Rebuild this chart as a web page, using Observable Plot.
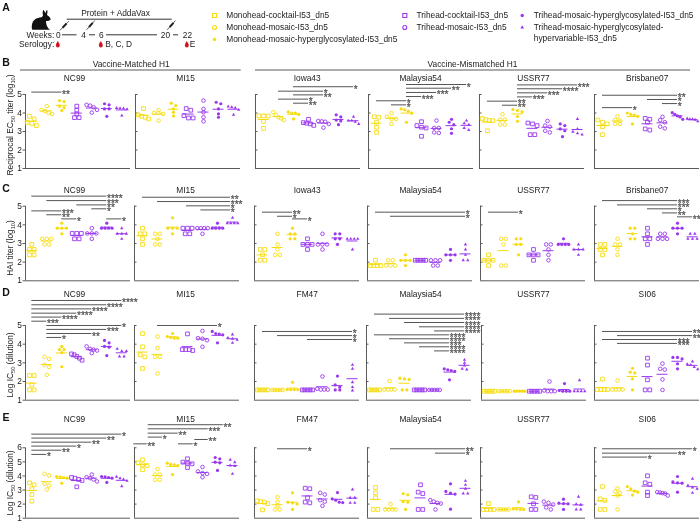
<!DOCTYPE html>
<html><head><meta charset="utf-8">
<script src="https://cdn.jsdelivr.net/npm/d3@7"></script>
<script src="https://cdn.jsdelivr.net/npm/@observablehq/plot@0.6"></script>
<style>
html,body{margin:0;padding:0;background:#fff}
#page{position:relative;width:700px;height:521px;overflow:hidden;font-family:"Liberation Sans",Arial,sans-serif;color:#222}
#page svg{position:absolute;background:transparent;overflow:visible;max-width:none;will-change:transform}
.yl{position:absolute;left:10px;width:0;height:0;white-space:nowrap;font-size:8.35px;line-height:1}
.yl span.t{position:absolute;transform:translate(-50%,-50%) rotate(-90deg);display:block}
.yl sub{font-size:5.6px;vertical-align:baseline;position:relative;top:1.6px}
</style></head><body><div id="page"></div>
<script>
const groupNames=["Monohead-cocktail-I53_dn5","Monohead-mosaic-I53_dn5","Monohead-mosaic-hyperglycosylated-I53_dn5","Trihead-cocktail-I53_dn5","Trihead-mosaic-I53_dn5","Trihead-mosaic-hyperglycosylated-I53_dn5","Trihead-mosaic-hyperglycosylated-hypervariable-I53_dn5"];
const YEL="#f6dc10",PUR="#9a38ee";
const groupColor=[YEL,YEL,YEL,PUR,PUR,PUR,PUR];
const groupSymbol=["square","circle","circle","square","circle","circle","triangle"];
const groupOpen=[true,true,false,true,true,false,false];

// Row B: reciprocal EC50 titer
const B_NC99=[[3.82,3.68,3.5,3.44,3.32],[4.37,4.17,4.1,4.0,3.95],[4.67,4.62,4.37,4.29,4.13],[4.37,4.15,3.95,3.75,3.75],[4.44,4.4,4.31,4.17,4.02],[4.5,4.44,4.22,4.22,3.82],[4.27,4.26,4.24,4.2,3.86]];
const B_MI15=[[4.24,3.9,3.82,3.77,3.68],[4.15,4.0,4.0,3.95,3.59],[4.53,4.4,4.22,4.04,3.84],[4.24,4.15,3.86,3.73,3.73],[4.67,4.22,4.04,3.77,3.55],[4.58,4.5,4.22,3.95,3.77],[4.35,4.31,4.28,4.17,3.91]];
const B_Iowa43=[[3.84,3.84,3.84,3.55,3.17],[4.04,3.9,3.77,3.71,3.62],[4.06,4.0,3.99,3.93,3.68],[3.66,3.48,3.45,3.41,3.33],[3.57,3.55,3.53,3.41,3.21],[3.9,3.79,3.62,3.57,3.37],[3.8,3.59,3.59,3.52,3.41]];
const B_Malaysia54=[[3.8,3.77,3.5,3.23,2.95],[3.99,3.8,3.68,3.68,3.41],[4.22,4.17,4.1,3.99,3.5],[3.53,3.32,3.23,3.19,2.74],[3.59,3.19,3.19,2.95,2.92],[3.66,3.5,3.37,3.15,2.9],[3.59,3.44,3.37,3.19,3.08]];
const B_USSR77=[[3.7,3.64,3.59,3.59,3.04],[3.93,3.64,3.64,3.37,3.37],[4.19,4.13,4.06,3.81,3.55],[3.46,3.41,3.32,2.83,2.83],[3.57,3.32,3.26,3.04,2.95],[3.41,3.32,3.14,3.04,2.72],[3.68,3.14,2.99,2.9,2.83]];
const B_Brisbane07=[[3.62,3.5,3.41,3.26,2.83],[3.82,3.62,3.59,3.41,3.41],[4.0,3.93,3.88,3.82,3.41],[3.71,3.66,3.5,3.14,3.08],[3.79,3.62,3.5,3.26,3.17],[4.02,3.93,3.84,3.79,3.66],[3.7,3.66,3.66,3.64,3.55]];
// Row C: HAI titer
const C_NC99=[[2.95,2.68,2.68,2.39,2.39],[3.25,3.25,3.25,2.95,2.95],[4.09,3.82,3.82,3.82,3.52],[3.54,3.54,3.54,3.25,3.25],[3.82,3.54,3.54,3.54,3.25],[4.09,3.82,3.82,3.82,3.82],[3.82,3.52,3.52,3.52,3.25]];
const C_MI15=[[3.82,3.52,3.52,3.25,2.95],[3.52,3.52,3.25,2.95,2.95],[4.38,3.82,3.82,3.82,3.52],[3.82,3.82,3.82,3.52,3.52],[3.82,3.82,3.82,3.82,3.52],[4.09,3.82,3.82,3.82,3.82],[4.38,4.09,4.09,4.09,4.09]];
const C_Iowa43=[[2.68,2.68,2.39,2.1,2.1],[3.52,2.95,2.68,2.39,2.39],[3.82,3.52,3.52,3.25,3.25],[3.25,2.95,2.95,2.95,2.68],[3.52,2.95,2.95,2.95,2.68],[3.52,3.52,3.25,3.25,2.95],[3.25,3.25,3.25,3.25,2.68]];
const C_Malaysia54=[[2.1,1.82,1.82,1.82,1.82],[2.1,2.1,1.82,1.82,1.82],[2.39,2.1,2.1,2.1,1.82],[2.1,2.1,2.1,2.1,2.1],[2.1,2.1,2.1,1.82,1.82],[2.68,2.39,2.39,2.39,2.1],[2.95,2.68,2.39,2.1,2.1]];
const C_USSR77=[[2.39,2.1,2.1,2.1,1.82],[3.25,3.25,2.95,1.82,1.82],[3.25,3.25,2.95,2.95,2.39],[2.68,2.39,2.39,2.39,2.1],[2.95,2.95,2.68,2.39,2.1],[3.25,2.95,2.95,2.95,2.95],[2.95,2.68,2.68,2.68,2.39]];
const C_Brisbane07=[[2.95,2.95,2.68,2.68,2.39],[3.25,2.95,2.95,2.68,2.39],[3.82,3.82,3.52,3.25,3.25],[3.82,3.52,3.25,3.25,2.95],[3.52,3.52,3.25,3.25,3.25],[4.09,3.82,3.82,3.82,3.52],[3.52,3.52,3.25,3.25,3.25]];
// Row D: log IC50
const D_NC99=[[2.32,2.32,1.82,1.55,1.55],[3.32,3.21,2.89,2.77,2.36],[3.88,3.71,3.71,3.55,2.79],[3.48,3.43,3.34,3.25,3.14],[3.88,3.75,3.71,3.66,3.52],[4.2,4.07,3.88,3.84,3.39],[3.75,3.63,3.63,3.34,3.34]];
const D_MI15=[[4.57,3.86,3.43,3.32,2.7],[4.41,3.79,3.32,3.32,2.43],[4.57,4.41,4.36,4.32,4.32],[4.55,3.71,3.71,3.71,3.66],[4.71,4.32,4.29,4.21,3.86],[4.68,4.57,4.54,4.5,4.07],[4.52,4.34,4.29,4.23,4.07]];
const D_FM47=[[1.55,1.55,1.55,1.55,1.55],[1.55,1.55,1.55,1.55,1.55],[1.96,1.57,1.57,1.57,1.57],[1.55,1.55,1.55,1.55,1.55],[2.27,1.61,1.57,1.57,1.57],[2.29,1.82,1.7,1.55,1.55],[2.89,2.68,1.96,1.7,1.52]];
const D_Malaysia54=[[1.55,1.55,1.55,1.55,1.55],[2.02,1.57,1.57,1.57,1.57],[2.18,2.14,2.11,1.55,1.55],[1.55,1.55,1.55,1.55,1.55],[1.55,1.55,1.55,1.55,1.55],[2.68,2.63,2.59,2.54,2.09],[3.16,3.0,2.86,2.68,2.64]];
const D_USSR77=[[1.48,1.48,1.48,1.48,1.48],[1.48,1.48,1.48,1.48,1.48],[1.48,1.48,1.48,1.48,1.48],[1.48,1.48,1.48,1.48,1.48],[2.0,1.52,1.48,1.48,1.48],[1.89,1.52,1.48,1.48,1.48],[2.07,1.48,1.48,1.48,1.48]];
const D_SI06=[[2.13,1.57,1.57,1.57,1.57],[2.05,1.57,1.57,1.57,1.57],[2.71,2.5,2.46,2.14,1.55],[3.25,2.88,2.09,1.55,1.55],[2.96,2.68,2.64,2.11,1.55],[3.29,3.29,3.21,2.95,2.68],[3.07,2.93,2.89,2.77,2.66]];
// Row E: log IC50
const E_NC99=[[3.51,3.37,3.09,2.68,2.21],[4.15,4.03,3.44,3.32,3.04],[3.96,3.94,3.89,3.84,3.49],[3.89,3.84,3.75,3.68,3.23],[4.1,3.91,3.84,3.75,3.61],[3.96,3.94,3.89,3.84,3.54],[3.94,3.84,3.75,3.65,3.27]];
const E_MI15=[[5.15,4.93,4.79,4.74,4.44],[4.48,4.1,4.1,3.73,3.73],[4.91,4.82,4.79,4.74,4.1],[5.22,4.98,4.91,4.86,4.6],[4.63,4.32,4.2,4.15,3.91],[5.31,5.22,4.98,4.93,4.39],[5.15,4.98,4.74,4.7,4.15]];
const E_FM47=[[2.23,2.18,2.14,2.04,1.59],[2.49,2.14,1.9,1.62,1.62],[2.8,2.14,2.09,2.0,1.62],[3.13,3.09,2.45,2.14,2.09],[2.8,2.68,2.28,2.18,1.88],[2.82,2.37,2.28,2.14,2.11],[3.04,2.45,2.45,2.09,2.09]];
const E_Malaysia54=[[3.18,2.8,2.45,1.62,1.62],[2.0,1.62,1.62,1.62,1.62],[2.75,2.66,2.18,2.14,1.62],[3.37,2.85,2.75,1.62,1.62],[2.28,2.18,2.09,2.04,1.62],[3.44,2.9,2.78,2.71,1.64],[3.65,3.37,3.09,2.75,2.75]];
const E_USSR77=[[2.04,1.62,1.62,1.62,1.62],[1.62,1.62,1.62,1.62,1.62],[2.16,1.66,1.66,1.62,1.62],[2.52,2.47,2.02,1.62,1.62],[2.18,2.09,1.97,1.76,1.62],[2.35,2.07,2.04,2.02,1.62],[2.52,2.0,1.95,1.62,1.62]];
const E_SI06=[[3.25,2.37,2.26,1.62,1.62],[3.11,2.9,2.8,2.61,1.62],[3.25,3.09,2.92,2.85,2.64],[4.01,3.51,3.41,2.85,2.61],[2.85,2.82,2.78,2.75,2.61],[3.96,3.58,3.51,3.49,2.85],[3.8,3.32,3.18,3.09,2.8]];

// significance brackets: [from group, to group, level, stars]
const S_B_NC99=[[1,3,5.13,"**"]];
const S_B_MI15=[];
const S_B_Iowa43=[[3,7,5.42,"*"],[2,5,5.18,"*"],[3,5,4.98,"**"],[2,4,4.75,"*"],[3,4,4.53,"**"]];
const S_B_Malaysia54=[[3,7,5.54,"*"],[3,6,5.34,"**"],[3,5,5.11,"***"],[3,4,4.89,"***"],[1,3,4.66,"*"],[2,3,4.44,"*"]];
const S_B_USSR77=[[3,7,5.52,"***"],[3,6,5.31,"****"],[3,5,5.09,"***"],[3,4,4.87,"***"],[1,3,4.64,"**"],[2,3,4.42,"**"]];
const S_B_Brisbane07=[[1,6,4.96,"**"],[4,6,4.73,"*"],[5,6,4.51,"*"],[1,3,4.29,"*"]];
const S_C_NC99=[[1,6,5.54,"****"],[2,6,5.3,"***"],[4,6,5.07,"**"],[5,6,4.86,"*"],[1,3,4.75,"***"],[2,3,4.54,"**"],[3,4,4.32,"*"],[6,7,4.32,"*"]];
const S_C_MI15=[[1,6.87,5.48,"**"],[2,6.87,5.25,"***"],[3.93,6.87,5.02,"*"],[4.89,6.87,4.8,"*"]];
const S_C_Iowa43=[[1,3,4.68,"**"],[2,3,4.46,"*"],[3,4,4.32,"*"]];
const S_C_Malaysia54=[[1,7,4.68,"*"],[2,7,4.46,"*"]];
const S_C_USSR77=[[1,3,4.68,"*"]];
const S_C_Brisbane07=[[1,6,5.3,"***"],[2,6,5.07,"***"],[4,6,4.86,"*"],[5,6,4.64,"**"],[6,7,4.43,"**"]];
const S_D_NC99=[[1,7,6.34,"****"],[1,6,6.11,"****"],[1,5,5.89,"****"],[1,4,5.66,"****"],[1,3,5.45,"****"],[1,2,5.23,"***"],[2,7,5,"*"],[2,6,4.79,"***"],[2,5,4.57,"**"],[2,3,4.36,"*"]];
const S_D_MI15=[[2,6,5,"*"]];
const S_D_FM47=[[1,7,4.68,"*"],[2,7,4.46,"*"],[4,7,4.25,"*"]];
const S_D_Malaysia54=[[1,7,5.61,"****"],[2,7,5.38,"****"],[3,7,5.16,"****"],[4,7,4.93,"****"],[5,7,4.71,"****"],[1,6,4.5,"****"],[2,6,4.29,"****"],[3,6,4.07,"***"],[4,6,3.86,"****"],[5,6,3.64,"****"]];
const S_D_USSR77=[];
const S_D_SI06=[[1,7,4.68,"**"],[2,7,4.46,"**"],[1,6,4.25,"***"],[2,6,4.04,"***"]];
const S_E_NC99=[[1,7,6.97,"*"],[1,6,6.69,"**"],[1,5,6.4,"**"],[1,4,6.12,"*"],[1,3,5.83,"**"],[1,2,5.53,"*"]];
const S_E_MI15=[[1.38,6.38,7.64,"**"],[1.38,5.38,7.35,"***"],[1.38,3.38,7.04,"**"],[1.38,2.33,6.76,"*"],[4.49,5.38,6.59,"**"],[0.42,1.31,6.28,"**"],[3.4,4.38,6.28,"*"]];
const S_E_FM47=[[2,4,5.93,"*"]];
const S_E_Malaysia54=[[2,7,5.93,"**"],[5,7,5.62,"*"]];
const S_E_USSR77=[];
const S_E_SI06=[[1,7,5.93,"*"],[1,6,5.62,"**"],[1,4,5.34,"*"]];

const rowTitles=[["NC99","MI15","Iowa43","Malaysia54","USSR77","Brisbane07"],["NC99","MI15","Iowa43","Malaysia54","USSR77","Brisbane07"],["NC99","MI15","FM47","Malaysia54","USSR77","SI06"],["NC99","MI15","FM47","Malaysia54","USSR77","SI06"]];
const rowData=[[B_NC99,B_MI15,B_Iowa43,B_Malaysia54,B_USSR77,B_Brisbane07],[C_NC99,C_MI15,C_Iowa43,C_Malaysia54,C_USSR77,C_Brisbane07],[D_NC99,D_MI15,D_FM47,D_Malaysia54,D_USSR77,D_SI06],[E_NC99,E_MI15,E_FM47,E_Malaysia54,E_USSR77,E_SI06]];
const rowSig=[[S_B_NC99,S_B_MI15,S_B_Iowa43,S_B_Malaysia54,S_B_USSR77,S_B_Brisbane07],[S_C_NC99,S_C_MI15,S_C_Iowa43,S_C_Malaysia54,S_C_USSR77,S_C_Brisbane07],[S_D_NC99,S_D_MI15,S_D_FM47,S_D_Malaysia54,S_D_USSR77,S_D_SI06],[S_E_NC99,S_E_MI15,S_E_FM47,S_E_Malaysia54,S_E_USSR77,S_E_SI06]];
const rowTicks=[[1,2,3,4,5],[1,2,3,4,5],[1,2,3,4,5],[1,2,3,4,5,6]];
const rowLayout=[{top:94,bottom:168,tTop:70},{top:205.7,bottom:280.3,tTop:180},{top:325,bottom:399.7,tTop:286},{top:447.3,bottom:517.7,tTop:408}];
const rowAxisX=[[24.5,134.7,254.5,367.7,479,594],[24.5,134,254.3,367.3,480,593.7],[24.5,134,254.3,365.7,481,593.7],[24.5,134,254.3,367.3,480,593.7]];
const titleY=[77.5,190,294,418.5];
const titleX=[74,185,306.7,420,533,646.7];
const rowLetter=[["A",7],["B",62.5],["C",188],["D",292],["E",417]];
const yLabels=[["Reciprocal EC<sub>50</sub> titer (log<sub>10</sub>)",125],["HAI titer (log<sub>10</sub>)",248],["Log IC<sub>50</sub> (dilution)",365],["Log IC<sub>50</sub> (dilution)",483]];

const AX="#5a5a5a", SIG="#555";
const page=document.getElementById("page");
const PW=105, GAP=15;

function spread(vals,pxPerUnit){
  const s=vals.slice().sort((a,b)=>b-a), out=[]; let i=0;
  while(i<s.length){
    let j=i+1;
    while(j<s.length && (s[j-1]-s[j])*pxPerUnit<2.6) j++;
    const n=j-i, step=n>1?Math.min(4.6,10.5/(n-1)):0;
    for(let k=i;k<j;k++) out.push({v:s[k],off:(k-i-(n-1)/2)*step});
    i=j;
  }
  return out;
}

rowData.forEach((row,r)=>{
  const L=rowLayout[r], T=rowTicks[r], tMax=T[T.length-1];
  const ppu=(L.bottom-L.top)/(tMax-1);
  row.forEach((vals,c)=>{
    const ax=rowAxisX[r][c], off=c===0?6.3:8;
    const x0=1-off/GAP, x1=1+(PW-off)/GAP;
    const sig=rowSig[r][c];
    const marks=[
      Plot.ruleX([x0],{y1:1,y2:tMax,stroke:AX,strokeWidth:1}),
      Plot.ruleY([1],{x1:x0,x2:x1,stroke:AX,strokeWidth:1})
    ];
    if(c===0) marks.push(Plot.axisY({ticks:T,tickFormat:"d",tickSize:2.5,tickPadding:1,fontSize:8.35,stroke:AX,fill:"#222",label:null}));
    else marks.push(Plot.ruleY(T.slice(1),{x1:x0,x2:x0+2.5/GAP,stroke:AX,strokeWidth:1}));
    const means=vals.map((v,g)=>({g:g+1,m:d3.mean(v)}));
    vals.forEach((v,g)=>{
      const pts=spread(v,ppu).map(p=>({x:g+1+p.off/GAP,y:p.v}));
      const col=groupColor[g], open=groupOpen[g], sym=groupSymbol[g];
      const rad=sym==="square"?(open?2.1:2):(sym==="triangle"?1.25:(open?1.8:1.6));
      marks.push(Plot.dot(pts,{x:"x",y:"y",r:rad,symbol:sym,fill:open?"none":col,stroke:open?col:"none",strokeWidth:open?0.9:0}));
      marks.push(Plot.ruleY([means[g]],{x1:d=>d.g-5.5/GAP,x2:d=>d.g+5.5/GAP,y:"m",stroke:col,strokeWidth:1}));
    });
    if(sig.length){
      marks.push(Plot.ruleY(sig,{x1:d=>d[0],x2:d=>d[1],y:d=>d[2],stroke:SIG,strokeWidth:1}));
      marks.push(Plot.text(sig,{x:d=>d[1],y:d=>d[2],text:d=>d[3],textAnchor:"start",dx:0.3,dy:2.8,fontSize:10,fill:SIG,stroke:SIG,strokeWidth:0.25}));
    }
    const svg=Plot.plot({
      width:PW+25,height:L.bottom-L.tTop+2,marginLeft:24,marginRight:1,marginTop:0,marginBottom:2,
      x:{domain:[x0,x1],range:[24,24+PW],axis:null},
      y:{domain:[1,tMax],range:[L.bottom-L.tTop,L.top-L.tTop],axis:null},
      style:{fontFamily:"'Liberation Sans',Arial,sans-serif",background:"transparent",overflow:"visible"},
      marks
    });
    svg.style.left=(ax-24)+"px"; svg.style.top=L.tTop+"px";
    page.appendChild(svg);
  });
});

// Overlay: headers, panel letters, legend, schedule
const legendItems=[[214,15,225.7,0],[214,27,225.7,1],[214,39,225.7,2],[404.3,15,416,3],[404.3,27,416,4],[521.7,15,533.3,5],[521.7,27,533.3,6]];
const weekLabels=[["0",57.7],["4",83],["6",100.7],["20",165],["22",187]];
const weekSegments=[[62,76.5],[89,95],[106,157],[173,178]];
const syringes=[[59.3,30,68.3,20.7],[86,29.3,94.3,20],[166.7,29.3,175,20]];
const drops=[57.3,100.3,186.3];
const headerRules=[[20,240.7],[255,690]];
const headerText=[["Vaccine-Matched H1",130.7],["Vaccine-Mismatched H1",472]];
const F=8.35;
const overlay=[
  ...legendItems.map(([mx,my,tx,g])=>Plot.dot([{x:mx,y:my}],{x:"x",y:"y",r:groupSymbol[g]==="square"?2.3:(groupSymbol[g]==="triangle"?1.4:(groupOpen[g]?2:1.7)),symbol:groupSymbol[g],fill:groupOpen[g]?"none":groupColor[g],stroke:groupOpen[g]?groupColor[g]:"none",strokeWidth:groupOpen[g]?1.1:0})),
  Plot.text(legendItems.slice(0,6),{x:d=>d[2],y:d=>d[1],text:d=>groupNames[d[3]],textAnchor:"start",fontSize:F,fill:"#222"}),
  Plot.text(["Trihead-mosaic-hyperglycosylated-","hypervariable-I53_dn5"],{x:[533.3,533.3],y:[27,37.7],text:d=>d,textAnchor:"start",fontSize:F,fill:"#222"}),
  Plot.text(rowLetter,{x:()=>5.5,y:d=>d[1],text:d=>d[0],fontSize:10.5,fontWeight:"bold",fill:"#111"}),
  Plot.ruleY(headerRules,{x1:d=>d[0],x2:d=>d[1],y:()=>69.5,stroke:AX,strokeWidth:1}),
  Plot.text(headerText,{x:d=>d[1],y:()=>64,text:d=>d[0],fontSize:F,fill:"#222"}),
  ...rowTitles.map((row,r)=>Plot.text(row,{x:(d,i)=>titleX[i],y:()=>titleY[r],text:d=>d,fontSize:F,fill:"#222"})),
  Plot.text(["Protein + AddaVax"],{x:()=>115,y:()=>12.7,text:d=>d,fontSize:F,fill:"#222"}),
  Plot.ruleY([18.7],{x1:()=>66.7,x2:()=>171.7,stroke:"#333",strokeWidth:1}),
  Plot.text(["Weeks:","Serology:"],{x:()=>53.7,y:[35,43.7],text:d=>d,textAnchor:"end",fontSize:F,fill:"#222"}),
  Plot.text(weekLabels,{x:d=>d[1],y:()=>35,text:d=>d[0],fontSize:F,fill:"#222"}),
  Plot.ruleY(weekSegments,{x1:d=>d[0],x2:d=>d[1],y:()=>34.3,stroke:"#333",strokeWidth:1}),
  Plot.text(["B, C, D","E"],{x:[104.7,189.3],y:[44,44],text:d=>d,textAnchor:"start",fontSize:F,fill:"#222"}),
  Plot.dot(drops,{x:d=>d,y:()=>45,r:1.9,fill:"#d3121b"}),
  Plot.dot(drops,{x:d=>d,y:()=>42.8,r:1.5,symbol:"triangle",fill:"#d3121b"}),
  Plot.link(syringes,{x1:d=>d[0],y1:d=>d[1],x2:d=>d[2],y2:d=>d[3],stroke:"#333",strokeWidth:0.8}),
  Plot.link(syringes,{x1:d=>d[0]+(d[2]-d[0])*.3,y1:d=>d[1]+(d[3]-d[1])*.3,x2:d=>d[0]+(d[2]-d[0])*.75,y2:d=>d[1]+(d[3]-d[1])*.75,stroke:"#222",strokeWidth:2}),
  ()=>{ const p=document.createElementNS("http://www.w3.org/2000/svg","path");
    p.setAttribute("d","M32 29.5C31 24 33 19 38 18C41 17.5 42.5 17 43 15.5C42.5 13 42.5 11 43.3 10C44.5 10.5 45 12 45.3 13.5C45.8 11.5 46.5 10.3 47.2 10C47.8 11.5 47.3 13.5 47 15C49 16 50.5 18 50.7 19.5C50 21 47.5 21 46 21C46 24 47 27 48.5 28.5L50 29.7L40 29.7C37 29.7 33.5 30 32 29.5Z");
    p.setAttribute("fill","#111"); return p; }
];
const ov=Plot.plot({width:700,height:521,margin:0,
  x:{domain:[0,700],range:[0,700],axis:null},y:{domain:[0,521],range:[0,521],axis:null},
  style:{fontFamily:"'Liberation Sans',Arial,sans-serif",background:"transparent",overflow:"visible"},
  marks:overlay});
ov.style.left="0";ov.style.top="0";
page.appendChild(ov);

yLabels.forEach(([h,y])=>{const d=document.createElement("div");d.className="yl";d.style.top=y+"px";d.innerHTML=`<span class="t">${h}</span>`;page.appendChild(d);});
</script></body></html>
